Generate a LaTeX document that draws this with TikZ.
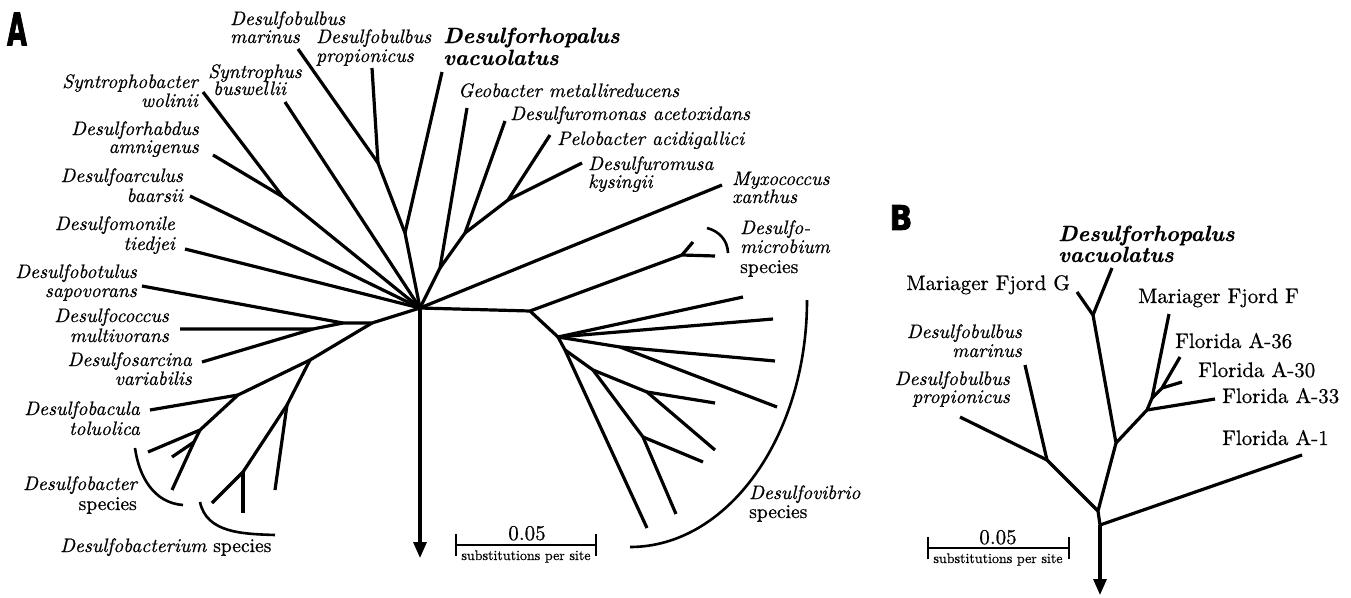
\documentclass[tikz,border=0pt]{standalone}
\usepackage{graphicx}
\usepackage{fontspec}
\setmainfont{lmroman10-regular.otf}[FakeBold=0.7,ItalicFont=lmroman10-italic.otf,BoldFont=lmroman10-bold.otf,BoldItalicFont=lmroman10-bolditalic.otf]
\newfontfamily\heavyfont{DejaVu Sans}[FakeBold=2.5]
\usetikzlibrary{arrows.meta}
\newcommand\mylab{\fontsize{19.5}{19.5}\selectfont}
\newcommand\mylabB{\fontsize{21}{21}\selectfont}
\newcommand\mybig{\fontsize{22}{22}\selectfont}
\begin{document}
\begin{tikzpicture}[x=1pt,y=-1pt,
  brn/.style={line width=3.2pt,line join=round},
  labit/.style={font=\mylab\itshape,inner sep=0pt},
  labup/.style={font=\mylab,inner sep=0pt},
  labupB/.style={font=\mylabB,inner sep=0pt},
  labbi/.style={font=\mybig\bfseries\itshape,inner sep=0pt},
  scal/.style={line width=2pt,{Bar[width=22pt]}-{Bar[width=22pt]}},
  arrdown/.style={line width=3.2pt,-{Triangle[width=13pt,length=16pt]}},
  brack/.style={line width=2.6pt}]
\useasboundingbox (0,0) rectangle (1351,597);

% ---------------- Panel A: nodes ----------------
\coordinate (H) at (420,308);
\coordinate (Harr) at (420,558);
\coordinate (J1) at (405,233);
\coordinate (Nbulb) at (378,163);
\coordinate (tbmar) at (298,49);
\coordinate (tbprop) at (372,68);
\coordinate (tdrhop) at (442,72);
\coordinate (tsynt) at (285,102);
\coordinate (Nsw) at (283,197);
\coordinate (twol) at (203,92);
\coordinate (tamn) at (213,155);
\coordinate (tbaar) at (190,196);
\coordinate (ttied) at (185,249);
\coordinate (N1) at (372,323);
\coordinate (N2) at (343,323);
\coordinate (N3) at (313,329);
\coordinate (tsapo) at (142,286);
\coordinate (tmult) at (180,329);
\coordinate (tvari) at (202,362);
\coordinate (N4) at (310,360);
\coordinate (N5) at (238,395);
\coordinate (N6) at (200,430);
\coordinate (N7) at (194,442);
\coordinate (ttolu) at (150,410);
\coordinate (tdbac1) at (148,452);
\coordinate (tdbac2) at (172,457);
\coordinate (tdbac3) at (172,490);
\coordinate (N8) at (287,405);
\coordinate (N9) at (243,472);
\coordinate (tdbm1) at (275,490);
\coordinate (tdbm2) at (243,513);
\coordinate (tdbm3) at (212,503);
\coordinate (Ngeo) at (440,268);
\coordinate (Ndmon) at (465,233);
\coordinate (Npelo) at (508,200);
\coordinate (tgeo) at (467,108);
\coordinate (tdmon) at (505,121);
\coordinate (tpelo) at (550,135);
\coordinate (tdmusa) at (582,163);
\coordinate (tmyxo) at (722,185);
\coordinate (Nr) at (530,311);
\coordinate (Ndm) at (682,255);
\coordinate (tdm1) at (693,242);
\coordinate (tdm2) at (715,256);
\coordinate (Ndv1) at (558,337);
\coordinate (tdv1) at (743,297);
\coordinate (tdv2) at (773,319);
\coordinate (Ndv2) at (620,347);
\coordinate (tdv3) at (775,361);
\coordinate (tdv4) at (777,407);
\coordinate (Ndv3) at (565,350);
\coordinate (tdv9) at (647,528);
\coordinate (Ndv4) at (593,370);
\coordinate (Ndv5) at (647,392);
\coordinate (tdv5) at (715,403);
\coordinate (tdv6) at (715,450);
\coordinate (Ndv6) at (643,437);
\coordinate (tdv7) at (703,462);
\coordinate (tdv8) at (676,514);

% ---------------- Panel A: branches ----------------
\draw[brn] (H) -- (J1) -- (Nbulb) -- (tbmar);
\draw[brn] (Nbulb) -- (tbprop);
\draw[brn] (J1) -- (tdrhop);
\draw[brn] (H) -- (tsynt);
\draw[brn] (H) -- (Nsw) -- (twol);
\draw[brn] (Nsw) -- (tamn);
\draw[brn] (H) -- (tbaar);
\draw[brn] (H) -- (ttied);
\draw[brn] (H) -- (N1) -- (N2) -- (N3) -- (tmult);
\draw[brn] (N2) -- (tsapo);
\draw[brn] (N3) -- (tvari);
\draw[brn] (N1) -- (N4) -- (N5) -- (N6) -- (tdbac1);
\draw[brn] (N5) -- (ttolu);
\draw[brn] (N6) -- (N7) -- (tdbac3);
\draw[brn] (N7) -- (tdbac2);
\draw[brn] (N4) -- (N8) -- (N9) -- (tdbm3);
\draw[brn] (N8) -- (tdbm1);
\draw[brn] (N9) -- (tdbm2);
\draw[brn] (H) -- (Ngeo) -- (tgeo);
\draw[brn] (Ngeo) -- (Ndmon) -- (tdmon);
\draw[brn] (Ndmon) -- (Npelo) -- (tpelo);
\draw[brn] (Npelo) -- (tdmusa);
\draw[brn] (H) -- (tmyxo);
\draw[brn] (H) -- (Nr) -- (Ndm) -- (tdm2);
\draw[brn] (Ndm) -- (tdm1);
\draw[brn] (Nr) -- (Ndv1) -- (tdv1);
\draw[brn] (Ndv1) -- (tdv2);
\draw[brn] (Ndv1) -- (Ndv2) -- (tdv3);
\draw[brn] (Ndv2) -- (tdv4);
\draw[brn] (Ndv1) -- (Ndv3) -- (tdv9);
\draw[brn] (Ndv3) -- (Ndv4) -- (Ndv5) -- (tdv6);
\draw[brn] (Ndv5) -- (tdv5);
\draw[brn] (Ndv4) -- (Ndv6) -- (tdv8);
\draw[brn] (Ndv6) -- (tdv7);
\draw[arrdown] (H) -- (Harr);

% brackets
\coordinate (bk1a) at (135,448); \coordinate (bk1b) at (183,505);
\draw[brack] (bk1a) to[out=-82,in=176] (bk1b);
\coordinate (bk2a) at (200,502); \coordinate (bk2b) at (275,535);
\draw[brack] (bk2a) to[out=-78,in=178] (bk2b);
\coordinate (bk3a) at (707,228); \coordinate (bk3b) at (728,253);
\draw[brack] (bk3a) to[out=-15,in=92] (bk3b);
\coordinate (bk4a) at (807,300); \coordinate (bk4b) at (630,547);
\draw[brack] (bk4a) .. controls (807,436) and (728,547) .. (bk4b);

% scale bar A
\coordinate (sa1) at (455,545); \coordinate (sa2) at (597,545);
\draw[scal] (sa1) -- (sa2);
\node[font=\fontsize{21}{21}\selectfont,inner sep=0pt,anchor=base] (sa0) at (527,540) {0.05};
\node[font=\fontsize{14}{14}\selectfont,inner sep=0pt,anchor=base] (sat) at (526,560) {substitutions per site};

% ---------------- Panel A: labels ----------------
\node[inner sep=0pt] (labA) at (17,29) {\scalebox{0.57}[1]{\fontsize{45}{45}\selectfont\heavyfont\bfseries A}};
\node[labit,anchor=base west] (l1a) at (230,25) {Desulfobulbus};
\node[labit,anchor=base west] (l1b) at (230,43) {marinus};
\node[labit,anchor=base west] (l2a) at (316,43) {Desulfobulbus};
\node[labit,anchor=base west] (l2b) at (316,62) {propionicus};
\node[labbi,anchor=base west] (l3a) at (443,43) {Desulforhopalus};
\node[labbi,anchor=base west] (l3b) at (443,65) {vacuolatus};
\node[labit,anchor=base west] (l4a) at (208,78) {Syntrophus};
\node[labit,anchor=base west] (l4b) at (213,95) {buswellii};
\node[labit,anchor=base east] (l5a) at (198,88) {Syntrophobacter};
\node[labit,anchor=base east] (l5b) at (198,107) {wolinii};
\node[labit,anchor=base east] (l6a) at (199,135) {Desulforhabdus};
\node[labit,anchor=base east] (l6b) at (199,153) {amnigenus};
\node[labit,anchor=base east] (l7a) at (183,182) {Desulfoarculus};
\node[labit,anchor=base east] (l7b) at (183,202) {baarsii};
\node[labit,anchor=base east] (l8a) at (175,230) {Desulfomonile};
\node[labit,anchor=base east] (l8b) at (175,250) {tiedjei};
\node[labit,anchor=base east] (l9a) at (137,278) {Desulfobotulus};
\node[labit,anchor=base east] (l9b) at (137,297) {sapovorans};
\node[labit,anchor=base east] (l10a) at (169,322) {Desulfococcus};
\node[labit,anchor=base east] (l10b) at (169,342) {multivorans};
\node[labit,anchor=base east] (l11a) at (192,366) {Desulfosarcina};
\node[labit,anchor=base east] (l11b) at (192,385) {variabilis};
\node[labit,anchor=base east] (l12a) at (140,415) {Desulfobacula};
\node[labit,anchor=base east] (l12b) at (140,435) {toluolica};
\node[labit,anchor=base east] (l13a) at (137,490) {Desulfobacter};
\node[labup,anchor=base east] (l13b) at (137,510) {species};
\node[labup,anchor=base west] (l14) at (60,552) {\textit{Desulfobacterium} species};
\node[labit,anchor=base west] (l15) at (458,97) {Geobacter metallireducens};
\node[labit,anchor=base west] (l16) at (510,120) {Desulfuromonas acetoxidans};
\node[labit,anchor=base west] (l17) at (557,145) {Pelobacter acidigallici};
\node[labit,anchor=base west] (l18a) at (588,170) {Desulfuromusa};
\node[labit,anchor=base west] (l18b) at (588,188) {kysingii};
\node[labit,anchor=base west] (l19a) at (732,185) {Myxococcus};
\node[labit,anchor=base west] (l19b) at (732,203) {xanthus};
\node[labit,anchor=base west] (l20a) at (740,234) {Desulfo-};
\node[labit,anchor=base west] (l20b) at (740,253) {microbium};
\node[labup,anchor=base west] (l20c) at (740,273) {species};
\node[labit,anchor=base west] (l21a) at (749,499) {Desulfovibrio};
\node[labup,anchor=base west] (l21b) at (749,518) {species};

% ---------------- Panel B ----------------
\coordinate (Broot) at (1100,525);
\coordinate (Barr) at (1100,595);
\coordinate (Bn1) at (1098,511);
\coordinate (Bbulb) at (1047,460);
\coordinate (tbbmar) at (1025,365);
\coordinate (tbbprop) at (960,417);
\coordinate (Bn2) at (1116,443);
\coordinate (Bn3) at (1093,315);
\coordinate (tbmfg) at (1077,292);
\coordinate (tbdrhop) at (1112,268);
\coordinate (Bn4) at (1147,410);
\coordinate (tba33) at (1215,399);
\coordinate (Bn5) at (1152,398);
\coordinate (tbmff) at (1169,314);
\coordinate (Bn6) at (1162,388);
\coordinate (tba36) at (1180,357);
\coordinate (tba30) at (1182,382);
\coordinate (tba1) at (1302,455);

\draw[brn] (Broot) -- (Bn1) -- (Bbulb) -- (tbbprop);
\draw[brn] (Bbulb) -- (tbbmar);
\draw[brn] (Bn1) -- (Bn2) -- (Bn3) -- (tbmfg);
\draw[brn] (Bn3) -- (tbdrhop);
\draw[brn] (Bn2) -- (Bn4) -- (tba33);
\draw[brn] (Bn4) -- (Bn5) -- (tbmff);
\draw[brn] (Bn5) -- (Bn6) -- (tba36);
\draw[brn] (Bn6) -- (tba30);
\draw[brn] (Broot) -- (tba1);
\draw[arrdown] (Broot) -- (Barr);

\coordinate (sb1) at (927,548); \coordinate (sb2) at (1070,548);
\draw[scal] (sb1) -- (sb2);
\node[font=\fontsize{21}{21}\selectfont,inner sep=0pt,anchor=base] (sb0) at (998,544) {0.05};
\node[font=\fontsize{14}{14}\selectfont,inner sep=0pt,anchor=base] (sbt) at (998,563) {substitutions per site};

\node[inner sep=0pt] (labB) at (901,217.5) {\scalebox{0.88}[1]{\fontsize{34}{34}\selectfont\heavyfont\bfseries B}};
\node[labbi,anchor=base west] (m1a) at (1058,241) {Desulforhopalus};
\node[labbi,anchor=base west] (m1b) at (1058,262) {vacuolatus};
\node[labupB,anchor=base east] (m2) at (1070,290) {Mariager Fjord G};
\node[labupB,anchor=base west] (m3) at (1138,303) {Mariager Fjord F};
\node[labupB,anchor=base west] (m4) at (1175,348) {Florida A-36};
\node[labupB,anchor=base west] (m5) at (1198,377) {Florida A-30};
\node[labupB,anchor=base west] (m6) at (1222,403) {Florida A-33};
\node[labupB,anchor=base west] (m7) at (1222,445) {Florida A-1};
\node[labit,anchor=base east] (m8a) at (1022,338) {Desulfobulbus};
\node[labit,anchor=base east] (m8b) at (1022,357) {marinus};
\node[labit,anchor=base east] (m9a) at (1010,385) {Desulfobulbus};
\node[labit,anchor=base east] (m9b) at (1010,403) {propionicus};
\end{tikzpicture}
\end{document}
